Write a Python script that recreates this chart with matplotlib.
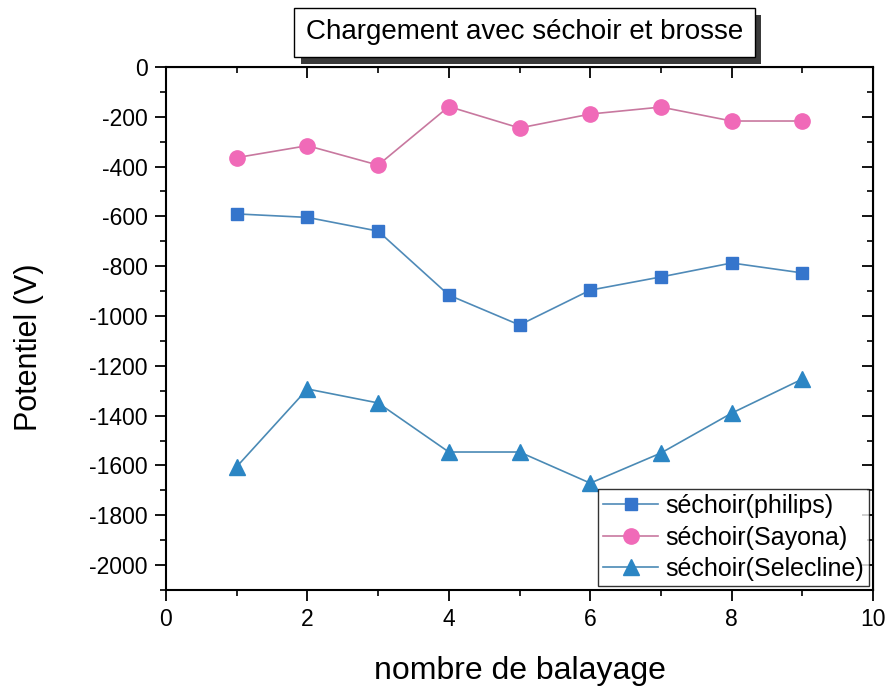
import matplotlib
matplotlib.use("Agg")
import matplotlib.pyplot as plt
import matplotlib.patheffects as pe
from matplotlib.ticker import MultipleLocator

plt.rcParams['font.family'] = ['Liberation Sans', 'DejaVu Sans']
plt.rcParams['axes.unicode_minus'] = False

# Number of sweeps
balayage = [1, 2, 3, 4, 5, 6, 7, 8, 9]

# Surface potential (V) for each dryer
philips = [-590, -604, -659, -916, -1036, -896, -843, -787, -827]
sayona = [-364, -316, -394, -159, -245, -189, -161, -217, -217]
selecline = [-1605, -1293, -1349, -1546, -1546, -1671, -1550, -1390, -1253]

labels = ["séchoir(philips)", "séchoir(Sayona)", "séchoir(Selecline)"]
title = "Chargement avec séchoir et brosse"
xlabel = "nombre de balayage"
ylabel = "Potentiel (V)"

fig = plt.figure(figsize=(8.9, 6.89), dpi=100)
ax = fig.add_axes([0.1865, 0.1437, 0.7945, 0.7591])

ax.plot(balayage, philips, color="#4f8ab8", lw=1.2, marker="s", ms=9,
        mfc="#3575cc", mec="#3575cc", label=labels[0])
ax.plot(balayage, sayona, color="#c8789f", lw=1.2, marker="o", ms=11,
        mfc="#f06ab8", mec="#f06ab8", label=labels[1])
ax.plot(balayage, selecline, color="#4a8ab5", lw=1.2, marker="^", ms=12,
        mfc="#2c86c4", mec="#2c86c4", label=labels[2])

ax.set_xlim(0, 10)
ax.set_ylim(-2100, 0)
ax.xaxis.set_major_locator(MultipleLocator(2))
ax.xaxis.set_minor_locator(MultipleLocator(1))
ax.yaxis.set_major_locator(MultipleLocator(200))
ax.yaxis.set_minor_locator(MultipleLocator(100))

ax.tick_params(which="major", direction="out", length=8, width=1.3, labelsize=16.5, pad=5)
ax.tick_params(which="minor", direction="out", length=4, width=1.2)
for s in ax.spines.values():
    s.set_linewidth(1.5)

# mirrored inward ticks on top and right
top = ax.secondary_xaxis("top")
top.xaxis.set_major_locator(MultipleLocator(2))
top.xaxis.set_minor_locator(MultipleLocator(1))
top.tick_params(which="major", direction="in", length=8, width=1.3, labeltop=False)
top.tick_params(which="minor", direction="in", length=4, width=1.2)
right = ax.secondary_yaxis("right")
right.yaxis.set_major_locator(MultipleLocator(200))
right.yaxis.set_minor_locator(MultipleLocator(100))
right.tick_params(which="major", direction="in", length=8, width=1.3, labelright=False)
right.tick_params(which="minor", direction="in", length=4, width=1.2)

ax.set_xlabel(xlabel, fontsize=23, labelpad=18)
ax.set_ylabel(ylabel, fontsize=22)
ax.yaxis.set_label_coords(-0.172, 0.465)

leg = ax.legend(loc="lower right", fontsize=18, frameon=True, fancybox=False,
                handlelength=2.2, handletextpad=0.3, borderpad=0.2,
                labelspacing=0.3, borderaxespad=0.15, edgecolor="black")
leg.get_frame().set_linewidth(1.0)

t = fig.text(0.589, 0.953, title, fontsize=20, ha="center", va="center",
             bbox=dict(boxstyle="square,pad=0.42", fc="white", ec="black", lw=1.0))
t.get_bbox_patch().set_path_effects([
    pe.SimplePatchShadow(offset=(5, -5), shadow_rgbFace="#3a3a3a", alpha=1.0),
    pe.Normal()])

fig.savefig("out.png", dpi=100)
